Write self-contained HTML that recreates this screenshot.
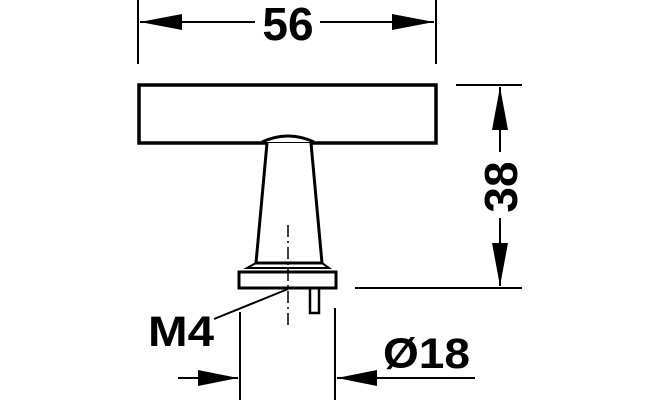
<!DOCTYPE html>
<html><head><style>body{margin:0;background:#fff}svg{display:block}</style></head><body>
<svg width="659" height="400" viewBox="0 0 659 400" xmlns="http://www.w3.org/2000/svg" font-family="Liberation Sans, sans-serif" font-weight="bold">
<g stroke="#000" fill="none">
<line x1="138" y1="0" x2="138" y2="64" stroke-width="2"/>
<line x1="436" y1="0" x2="436" y2="64" stroke-width="2"/>
<line x1="140" y1="22" x2="255" y2="22" stroke-width="2"/>
<line x1="320" y1="22" x2="434" y2="22" stroke-width="2"/>
<rect x="139" y="85" width="297" height="58" stroke-width="3.5"/>
<path d="M267 143 L256 263 L322 263 L311 143" stroke-width="3" fill="#fff"/>
<path d="M262 142 Q288 130 314 142" stroke-width="3" fill="#fff"/>
<path d="M256 263 L247 268 L329 268 L322 263" stroke-width="2"/>
<rect x="239" y="272" width="97" height="16" stroke-width="3"/>
<rect x="310" y="288" width="9" height="25" stroke-width="2.5"/>
<line x1="288" y1="225" x2="288" y2="325" stroke-width="1.5" stroke-dasharray="12,4,2,4"/>
<line x1="214" y1="319" x2="288" y2="289" stroke-width="2"/>
<line x1="456" y1="85" x2="522" y2="85" stroke-width="2"/>
<line x1="355" y1="288" x2="522" y2="288" stroke-width="2"/>
<line x1="500" y1="87" x2="500" y2="152" stroke-width="2"/>
<line x1="500" y1="218" x2="500" y2="286" stroke-width="2"/>
<line x1="240" y1="312" x2="240" y2="400" stroke-width="2"/>
<line x1="335" y1="308" x2="335" y2="400" stroke-width="2"/>
<line x1="178" y1="378" x2="238" y2="378" stroke-width="2"/>
<line x1="337" y1="378" x2="475" y2="378" stroke-width="2"/>
</g>
<g fill="#000">
<polygon points="140,22 182,14 182,30"/>
<polygon points="434,22 392,14 392,30"/>
<polygon points="500,87 492,130 508,130"/>
<polygon points="500,286 492,243 508,243"/>
<polygon points="238,378 198,370 198,386"/>
<polygon points="337,378 377,370 377,386"/>
</g>
<text x="288" y="40" font-size="46" text-anchor="middle">56</text>
<text transform="translate(517,187) rotate(-90)" font-size="46" text-anchor="middle">38</text>
<text x="148" y="346" font-size="43" textLength="66" lengthAdjust="spacingAndGlyphs">M4</text>
<text x="383" y="368" font-size="43" textLength="87" lengthAdjust="spacingAndGlyphs">Ø18</text>
</svg>
</body></html>
